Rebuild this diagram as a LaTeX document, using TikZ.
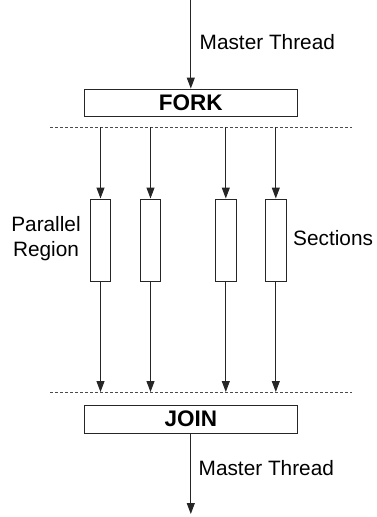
\documentclass[tikz,border=0pt]{standalone}
\usepackage{fontspec}
\setmainfont{Liberation Sans}
\usetikzlibrary{arrows.meta}
\begin{document}
\begin{tikzpicture}[x=1pt,y=-1pt,
  line/.style={draw=black!85, line width=1pt},
  arr/.style={line, -{Triangle[length=11pt,width=8pt]}},
  bigbox/.style={line, minimum width=213pt, minimum height=27.7pt, inner sep=0pt, font=\fontsize{22.5}{22.5}\selectfont\bfseries},
  thread/.style={line, minimum width=20.4pt, minimum height=82pt, inner sep=0pt},
  sep/.style={draw=black!70, line width=0.8pt, dash pattern=on 3pt off 2pt},
  lbl/.style={font=\fontsize{20.8}{25}\selectfont, inner sep=0pt}]
\useasboundingbox (0,0) rectangle (376,517);
% fork / join boxes
\node[bigbox] (fork) at (190.8,102.9) {FORK};
\node[bigbox] (join) at (190.8,419.2) {JOIN};
\coordinate (top) at (190.8,0);
\coordinate (bot) at (190.8,514);
% dashed separators
\coordinate (d1l) at (50,127.3); \coordinate (d1r) at (352,127.3);
\coordinate (d2l) at (50,392); \coordinate (d2r) at (352,392);
\draw[sep] (d1l) -- (d1r);
\draw[sep] (d2l) -- (d2r);
% thread boxes
\foreach \i/\x in {1/100.5,2/150.5,3/225.8,4/275.8}{
  \node[thread] (r\i) at (\x,240) {};
  \coordinate (a\i) at (\x,127.3);
  \coordinate (b\i) at (\x,392);
  \draw[arr] (a\i) -- (r\i.north);
  \draw[arr] (r\i.south) -- (b\i);
}
% master thread arrows
\draw[arr] (top) -- (fork.north);
\draw[arr] (join.south) -- (bot);
% labels
\node[lbl, anchor=base west] (mt1) at (199.5,49) {Master Thread};
\node[lbl, anchor=base west] (mt2) at (198.5,475) {Master Thread};
\node[lbl, align=center] (pr) at (46,238.5) {Parallel\\Region};
\node[lbl, anchor=west] (sec) at (293,238.5) {Sections};
\end{tikzpicture}
\end{document}
